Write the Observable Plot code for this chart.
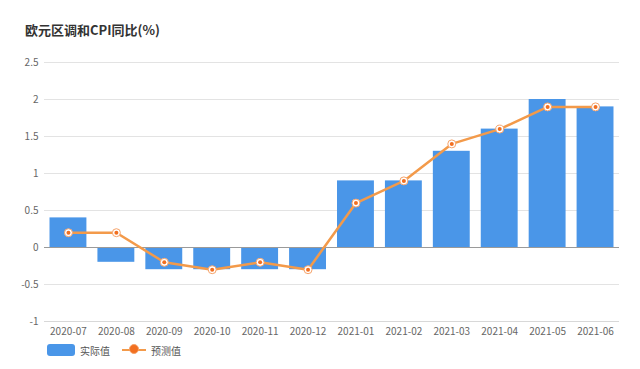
<!DOCTYPE html>
<html>
<head>
<meta charset="utf-8">
<script src="https://cdn.jsdelivr.net/npm/d3@7"></script>
<script src="https://cdn.jsdelivr.net/npm/@observablehq/plot@0.6"></script>
<style>
  body { margin: 0; background: #fff; font-family: "Noto Sans CJK SC", "Noto Sans", sans-serif; }
  #wrap { width: 640px; height: 369px; position: relative; overflow: hidden; }
  #title { position: absolute; left: 25px; top: 20px; font-size: 13px; font-weight: bold; color: #333; }
  #chart { position: absolute; left: 0; top: 50px; }
  #legend { position: absolute; left: 47px; top: 342px; font-size: 10px; color: #555; display: flex; align-items: center; height: 16px; }
  .sw { width: 28px; height: 12px; background: #4a96e8; border-radius: 3px; margin-right: 5px; }
  .ln { position: relative; width: 24px; height: 2px; background: #f39a4a; margin: 0 5px 0 12px; }
  .ln::after { content: ""; position: absolute; left: 7px; top: -5px; width: 8px; height: 8px; border-radius: 50%; background: #f26f20; border: 1px solid #f6a36a; }
</style>
</head>
<body>
<div id="wrap">
  <div id="title">欧元区调和CPI同比(%)</div>
  <div id="chart"></div>
  <div id="legend"><div class="sw"></div><span>实际值</span><div class="ln"></div><span>预测值</span></div>
</div>
<script>
const months = ["2020-07","2020-08","2020-09","2020-10","2020-11","2020-12","2021-01","2021-02","2021-03","2021-04","2021-05","2021-06"];
const actual = [0.4, -0.2, -0.3, -0.3, -0.3, -0.3, 0.9, 0.9, 1.3, 1.6, 2.0, 1.9];
const forecast = [0.2, 0.2, -0.2, -0.3, -0.2, -0.3, 0.6, 0.9, 1.4, 1.6, 1.9, 1.9];
const yTicks = [-1, -0.5, 0, 0.5, 1, 1.5, 2, 2.5];

const data = months.map((m, i) => ({month: m, actual: actual[i], forecast: forecast[i]}));

const chart = Plot.plot({
  width: 640,
  height: 292,
  marginTop: 12,
  marginBottom: 21,
  marginLeft: 44,
  marginRight: 21,
  style: {fontFamily: "'Noto Sans CJK SC', 'Noto Sans', sans-serif", fontSize: "10px", color: "#666", background: "#fff"},
  x: {domain: months, paddingInner: 0.23, paddingOuter: 0.115, round: false, label: null, tickSize: 0, tickPadding: 6},
  y: {domain: [-1, 2.5], ticks: yTicks, label: null, tickSize: 0, tickPadding: 6,
      tickFormat: d => String(d)},
  marks: [
    Plot.ruleY(yTicks, {stroke: "#e3e3e3", strokeWidth: 1}),
    Plot.ruleY([-1], {stroke: "#d8d8d8"}),
    Plot.barY(data, {x: "month", y: "actual", fill: "#4a96e8"}),
    Plot.ruleY([0], {stroke: "#9a9a9a", strokeWidth: 1}),
    Plot.line(data, {x: "month", y: "forecast", stroke: "#f39a4a", strokeWidth: 2.5}),
    Plot.dot(data, {x: "month", y: "forecast", r: 4, fill: "#fff", stroke: "#f6a36a", strokeWidth: 1}),
    Plot.dot(data, {x: "month", y: "forecast", r: 2, fill: "#f26f20"})
  ]
});
document.getElementById("chart").appendChild(chart);
</script>
</body>
</html>
